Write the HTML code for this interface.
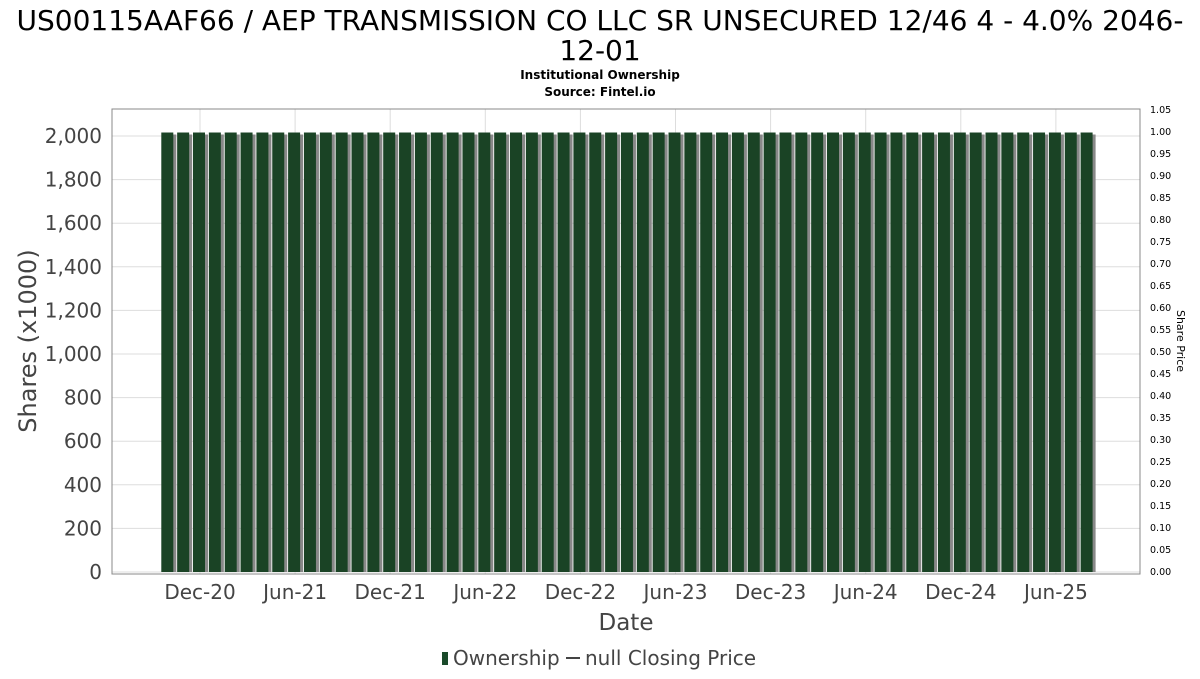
<!DOCTYPE html>
<html><head><meta charset="utf-8"><style>
body{margin:0;background:#fff;font-family:"DejaVu Sans","Liberation Sans",sans-serif;}
</style></head><body>
<svg id="c" width="1200" height="675" xmlns="http://www.w3.org/2000/svg">
<text x="600" y="30" text-anchor="middle" font-size="28">US00115AAF66 / AEP TRANSMISSION CO LLC SR UNSECURED 12/46 4 - 4.0% 2046-</text>
<text x="600" y="60" text-anchor="middle" font-size="28">12-01</text>
<text x="600" y="79" text-anchor="middle" font-size="12" font-weight="bold">Institutional Ownership</text>
<text x="600" y="96" text-anchor="middle" font-size="12" font-weight="bold">Source: Fintel.io</text>
<g id="grid"></g>
<g id="bars"></g>
<rect x="112" y="109" width="1028" height="465" fill="none" stroke="#888"/>
<g id="axes"></g>
<text transform="translate(36,341) rotate(-90)" text-anchor="middle" font-size="24" fill="#444">Shares (x1000)</text>
<text transform="translate(1177,341) rotate(90)" text-anchor="middle" font-size="11">Share Price</text>
<text x="626" y="630" text-anchor="middle" font-size="23" fill="#444">Date</text>
<g>
<rect x="442" y="652" width="6" height="13" fill="#1a4a2a"/>
<text x="453" y="665" font-size="20" fill="#444">Ownership</text>
<line x1="566" y1="658" x2="580" y2="658" stroke="#444" stroke-width="2"/>
<text x="585" y="665" font-size="20" fill="#444">null Closing Price</text>
</g>
</svg>
<script>
const barValues=[2016,2016,2016,2016,2016,2016,2016,2016,2016,2016,2016,2016,2016,2016,2016,2016,2016,2016,2016,2016,2016,2016,2016,2016,2016,2016,2016,2016,2016,2016,2016,2016,2016,2016,2016,2016,2016,2016,2016,2016,2016,2016,2016,2016,2016,2016,2016,2016,2016,2016,2016,2016,2016,2016,2016,2016,2016,2016,2016];
const firstMonthIndex=-2; // Oct-20 relative to Dec-20
const xTickLabels=["Dec-20","Jun-21","Dec-21","Jun-22","Dec-22","Jun-23","Dec-23","Jun-24","Dec-24","Jun-25"];
const yTicks=[0,200,400,600,800,1000,1200,1400,1600,1800,2000];
const rightTicks=[0,0.05,0.1,0.15,0.2,0.25,0.3,0.35,0.4,0.45,0.5,0.55,0.6,0.65,0.7,0.75,0.8,0.85,0.9,0.95,1.0,1.05];
const NS="http://www.w3.org/2000/svg";
const x=m=>200+m*15.85;
const y=v=>572-v*0.218;
const yr=v=>572-v*(462/1.05);
function mk(t,a,p){const e=document.createElementNS(NS,t);for(const k in a)e.setAttribute(k,a[k]);p.appendChild(e);return e;}
const grid=document.getElementById('grid'),bars=document.getElementById('bars'),axes=document.getElementById('axes');
yTicks.forEach(v=>{
 const l=mk('line',{x1:112,x2:1140,y1:y(v),y2:y(v),stroke:'#ddd'},grid);
 
 
 const t=mk('text',{x:102,y:y(v)+7,'text-anchor':'end','font-size':20,fill:'#444'},axes);
 t.textContent=v.toLocaleString('en-US');
 
 
});
xTickLabels.forEach((s,i)=>{
 const px=x(i*6);
 const l=mk('line',{x1:px,x2:px,y1:109,y2:574,stroke:'#ddd'},grid);
 
 
 const t=mk('text',{x:px,y:599,'text-anchor':'middle','font-size':20,fill:'#444'},axes);
 t.textContent=s;
 
 
});
rightTicks.forEach(v=>{
 const t=mk('text',{x:1150,y:yr(v)+3,'font-size':9.5},axes);
 t.textContent=v.toFixed(2);
 
 
});
barValues.forEach((v,i)=>{
 const cx=x(firstMonthIndex+i);
 const s=mk('rect',{x:cx-4,y:y(v)+2,width:12,height:572-y(v)-2,fill:'#888'},bars);
 
 
 const b=mk('rect',{x:cx-7,y:y(v),width:12,height:572-y(v),fill:'#1a4325'},bars);
 
 
});
</script>
</body></html>
